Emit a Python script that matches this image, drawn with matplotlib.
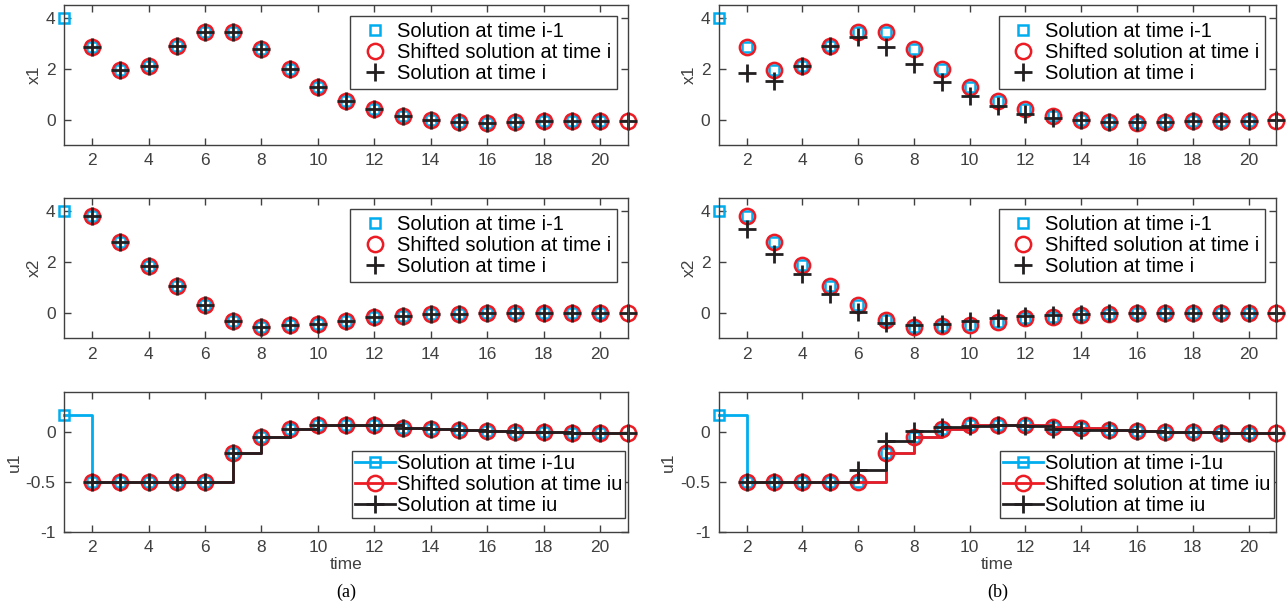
import matplotlib.pyplot as plt
import numpy as np

plt.rcParams['font.family'] = ['Liberation Sans', 'DejaVu Sans']

# time grid: previous solution lives on 1..20, new / shifted on 2..21
t_prev = np.arange(1, 21)
t_new = np.arange(2, 22)

# ---- case (a) ----
a_x1_prev = [4.0, 2.85, 1.95, 2.12, 2.9, 3.45, 3.45, 2.77, 1.97, 1.27,
             0.75, 0.40, 0.16, 0.0, -0.08, -0.12, -0.11, -0.05, -0.05, -0.05]
a_x1_new = [2.85, 1.95, 2.12, 2.9, 3.45, 3.45, 2.77, 1.97, 1.27, 0.75,
            0.40, 0.16, 0.0, -0.08, -0.12, -0.11, -0.05, -0.05, -0.05, -0.05]
a_x2_prev = [4.0, 3.8, 2.77, 1.85, 1.03, 0.30, -0.33, -0.55, -0.49, -0.45,
             -0.32, -0.16, -0.13, -0.04, -0.04, 0.0, 0.0, 0.0, 0.0, 0.0]
a_x2_new = [3.8, 2.77, 1.85, 1.03, 0.30, -0.33, -0.55, -0.49, -0.45, -0.32,
            -0.16, -0.13, -0.04, -0.04, 0.0, 0.0, 0.0, 0.0, 0.0, 0.0]
a_u1_prev = [0.167, -0.5, -0.5, -0.5, -0.5, -0.5, -0.21, -0.05, 0.033, 0.067,
             0.067, 0.067, 0.043, 0.033, 0.017, 0.007, 0.0, 0.0, -0.007, -0.007]
a_u1_new = [-0.5, -0.5, -0.5, -0.5, -0.5, -0.21, -0.05, 0.033, 0.067, 0.067,
            0.067, 0.043, 0.033, 0.017, 0.007, 0.0, 0.0, -0.007, -0.007, -0.007]

# ---- case (b) ----
b_x1_prev = [4.0, 2.85, 1.95, 2.12, 2.9, 3.45, 3.45, 2.77, 1.97, 1.27,
             0.75, 0.40, 0.16, 0.0, -0.08, -0.12, -0.11, -0.05, -0.05, -0.05]
b_x1_new = [1.82, 1.52, 2.12, 2.9, 3.25, 2.85, 2.19, 1.47, 0.94, 0.53,
            0.24, 0.07, -0.03, -0.09, -0.09, -0.09, -0.05, -0.05, -0.05, -0.03]
b_x2_prev = [4.0, 3.8, 2.77, 1.89, 1.03, 0.30, -0.28, -0.55, -0.52, -0.48,
             -0.38, -0.2, -0.15, -0.07, -0.04, 0.0, 0.0, 0.0, 0.0, 0.0]
b_x2_new = [3.27, 2.32, 1.53, 0.73, 0.03, -0.42, -0.49, -0.46, -0.32, -0.20,
            -0.11, -0.08, -0.03, -0.01, 0.0, 0.0, 0.0, 0.0, 0.0, 0.0]
b_u1_prev = [0.167, -0.5, -0.5, -0.5, -0.5, -0.5, -0.21, -0.05, 0.033, 0.073,
             0.067, 0.067, 0.05, 0.04, 0.017, 0.007, 0.0, 0.0, -0.007, -0.007]
b_u1_new = [-0.5, -0.5, -0.5, -0.5, -0.38, -0.093, 0.007, 0.05, 0.06, 0.067,
            0.06, 0.033, 0.023, 0.017, 0.007, 0.0, 0.0, -0.007, -0.007, -0.007]

BLUE = '#00aeef'
RED = '#ed1c24'
BLACK = '#231f20'
AXC = '#404040'


def shifted(prev):
    # drop the first sample, repeat the last one at the end
    return np.append(prev[1:], prev[-1])


def style_axes(ax, ylim, yticks, ylabel, yticklabels=None):
    ax.set_xlim(1, 21)
    ax.set_ylim(*ylim)
    ax.set_xticks(range(2, 21, 2))
    ax.set_yticks(yticks)
    if yticklabels:
        ax.set_yticklabels(yticklabels)
    ax.tick_params(direction='in', top=True, right=True, length=5,
                   width=1, colors=AXC, labelsize=12.5, pad=6)
    for s in ax.spines.values():
        s.set_color(AXC)
        s.set_linewidth(1)
    ax.set_ylabel(ylabel, color=AXC, fontsize=12.5, labelpad=3)


def state_panel(ax, prev, new, ylabel):
    ax.plot(t_prev, prev, ls='none', marker='s', ms=7, mfc='none', mec=BLUE, mew=1.8,
            clip_on=False, label='Solution at time i-1')
    ax.plot(t_new, shifted(prev), ls='none', marker='o', ms=11, mfc='none', mec=RED,
            mew=1.8, clip_on=False, label='Shifted solution at time i')
    ax.plot(t_new, new, ls='none', marker='+', ms=13, mec=BLACK, mew=2,
            clip_on=False, label='Solution at time i')
    style_axes(ax, (-1, 4.5), [0, 2, 4], ylabel)
    ax.legend(loc='upper right', fontsize=14.5, frameon=True, fancybox=False,
              edgecolor=AXC, framealpha=1, borderpad=0.3, labelspacing=0.1,
              handlelength=1.8, handletextpad=0.2, borderaxespad=0.55)


def input_panel(ax, prev, new):
    ax.step(t_prev, prev, where='post', color=BLUE, lw=2, marker='s', ms=7,
            mfc='none', mew=1.8, clip_on=False, label='Solution at time i-1u')
    ax.step(t_new, shifted(prev), where='post', color=RED, lw=2, marker='o', ms=11,
            mfc='none', mew=1.8, clip_on=False, label='Shifted solution at time iu')
    ax.step(t_new, new, where='post', color=BLACK, lw=2, marker='+', ms=13, mew=2,
            clip_on=False, label='Solution at time iu')
    style_axes(ax, (-1, 0.4), [-1, -0.5, 0], 'u1', ['-1', '-0.5', '0'])
    ax.set_xlabel('time', color=AXC, fontsize=12.5, labelpad=1)
    ax.legend(loc='lower right', bbox_to_anchor=(0.995, 0.1), fontsize=14.5,
              frameon=True, fancybox=False, edgecolor=AXC, framealpha=1,
              borderpad=0.15, labelspacing=0.1, handlelength=2.0,
              handletextpad=0.1, borderaxespad=0)


fig = plt.figure(figsize=(12.88, 6.15), dpi=100)

col_x = [0.0497, 0.558]
col_w = [0.438, 0.433]
row_y = [0.764, 0.450, 0.135]
row_h = 0.228

cases = [
    (a_x1_prev, a_x1_new, a_x2_prev, a_x2_new, a_u1_prev, a_u1_new, '(a)'),
    (b_x1_prev, b_x1_new, b_x2_prev, b_x2_new, b_u1_prev, b_u1_new, '(b)'),
]

for c, (x1p, x1n, x2p, x2n, u1p, u1n, tag) in enumerate(cases):
    axs = [fig.add_axes([col_x[c], row_y[r], col_w[c], row_h]) for r in range(3)]
    state_panel(axs[0], np.array(x1p), np.array(x1n), 'x1')
    state_panel(axs[1], np.array(x2p), np.array(x2n), 'x2')
    input_panel(axs[2], np.array(u1p), np.array(u1n))
    fig.text(col_x[c] + col_w[c] / 2, 0.022, tag, ha='center', va='bottom',
             fontsize=13, family='Liberation Serif')

fig.savefig('out.png', dpi=100)
